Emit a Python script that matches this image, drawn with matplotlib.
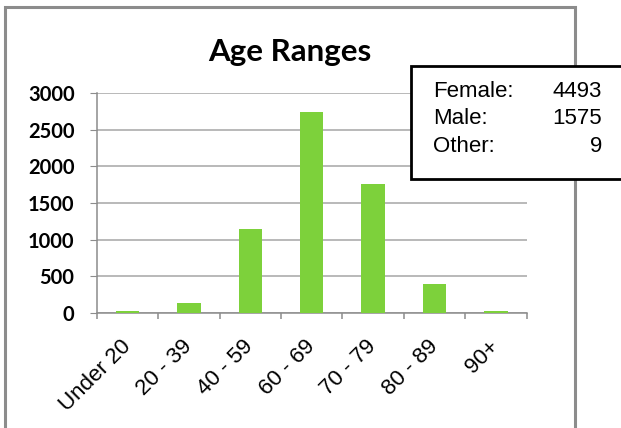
import matplotlib
matplotlib.use('Agg')
import matplotlib.pyplot as plt
from matplotlib.patches import Rectangle
import numpy as np

# data
age_groups = ['Under 20', '20 - 39', '40 - 59', '60 - 69', '70 - 79', '80 - 89', '90+']
counts = [22, 136, 1141, 2745, 1759, 395, 22]
gender_labels = ['Female:', 'Male:', 'Other:']
gender_counts = [4493, 1575, 9]

W, H = 621, 428
fig = plt.figure(figsize=(W / 100, H / 100), dpi=100)

# outer chart frame (runs off the bottom of the picture)
frame = Rectangle((5 / W, -0.2), 570 / W, 1.2 - 7 / H, transform=fig.transFigure,
                  fill=False, edgecolor='#8c8c8c', linewidth=2.2, clip_on=False)
fig.add_artist(frame)

ax = fig.add_axes([96.7 / W, 1 - 313 / H, 430 / W, 220 / H])
x = np.arange(len(age_groups))
ax.bar(x, counts, width=0.38, color='#7dd13b', zorder=3)

ax.set_xlim(-0.5, len(age_groups) - 0.5)
ax.set_ylim(0, 3000)
ax.set_yticks(np.arange(0, 3001, 500))
ax.grid(axis='y', color='#a6a6a6', linewidth=1.1, zorder=0)

for s in ['top', 'right']:
    ax.spines[s].set_visible(False)
for s in ['left', 'bottom']:
    ax.spines[s].set_color('#8c8c8c')
    ax.spines[s].set_linewidth(1.1)

ax.tick_params(axis='y', length=5, color='#8c8c8c', pad=11, labelsize=14.5)
for lab in ax.get_yticklabels():
    lab.set_fontfamily('Lato')
    lab.set_fontweight('bold')

ax.set_xticks(x)
ax.set_xticklabels(age_groups, rotation=45, ha='right', va='center',
                   rotation_mode='anchor', fontsize=16, family='Liberation Sans')
ax.tick_params(axis='x', which='major', length=0, pad=22)
ax.set_xticks(np.arange(-0.5, len(age_groups), 1), minor=True)
ax.tick_params(axis='x', which='minor', length=4.5, color='#8c8c8c', width=1.1)

fig.text(290 / W, 1 - 52 / H, 'Age Ranges', ha='center', va='center',
         fontsize=22.5, fontweight='bold', family='Lato')

# gender summary box
box = Rectangle((411 / W, 1 - 179 / H), 230 / W, 113 / H, transform=fig.transFigure,
                facecolor='white', edgecolor='black', linewidth=2, clip_on=False, zorder=5)
fig.add_artist(box)
for i, (lab, val) in enumerate(zip(gender_labels, gender_counts)):
    yb = 1 - (97 + i * 27.5) / H
    fig.text(433 / W, yb, lab, ha='left', va='baseline', fontsize=16,
             family='Liberation Sans', zorder=6)
    fig.text(602 / W, yb, str(val), ha='right', va='baseline', fontsize=16,
             family='Liberation Sans', zorder=6)

fig.savefig('out.png', dpi=100, facecolor='white')
